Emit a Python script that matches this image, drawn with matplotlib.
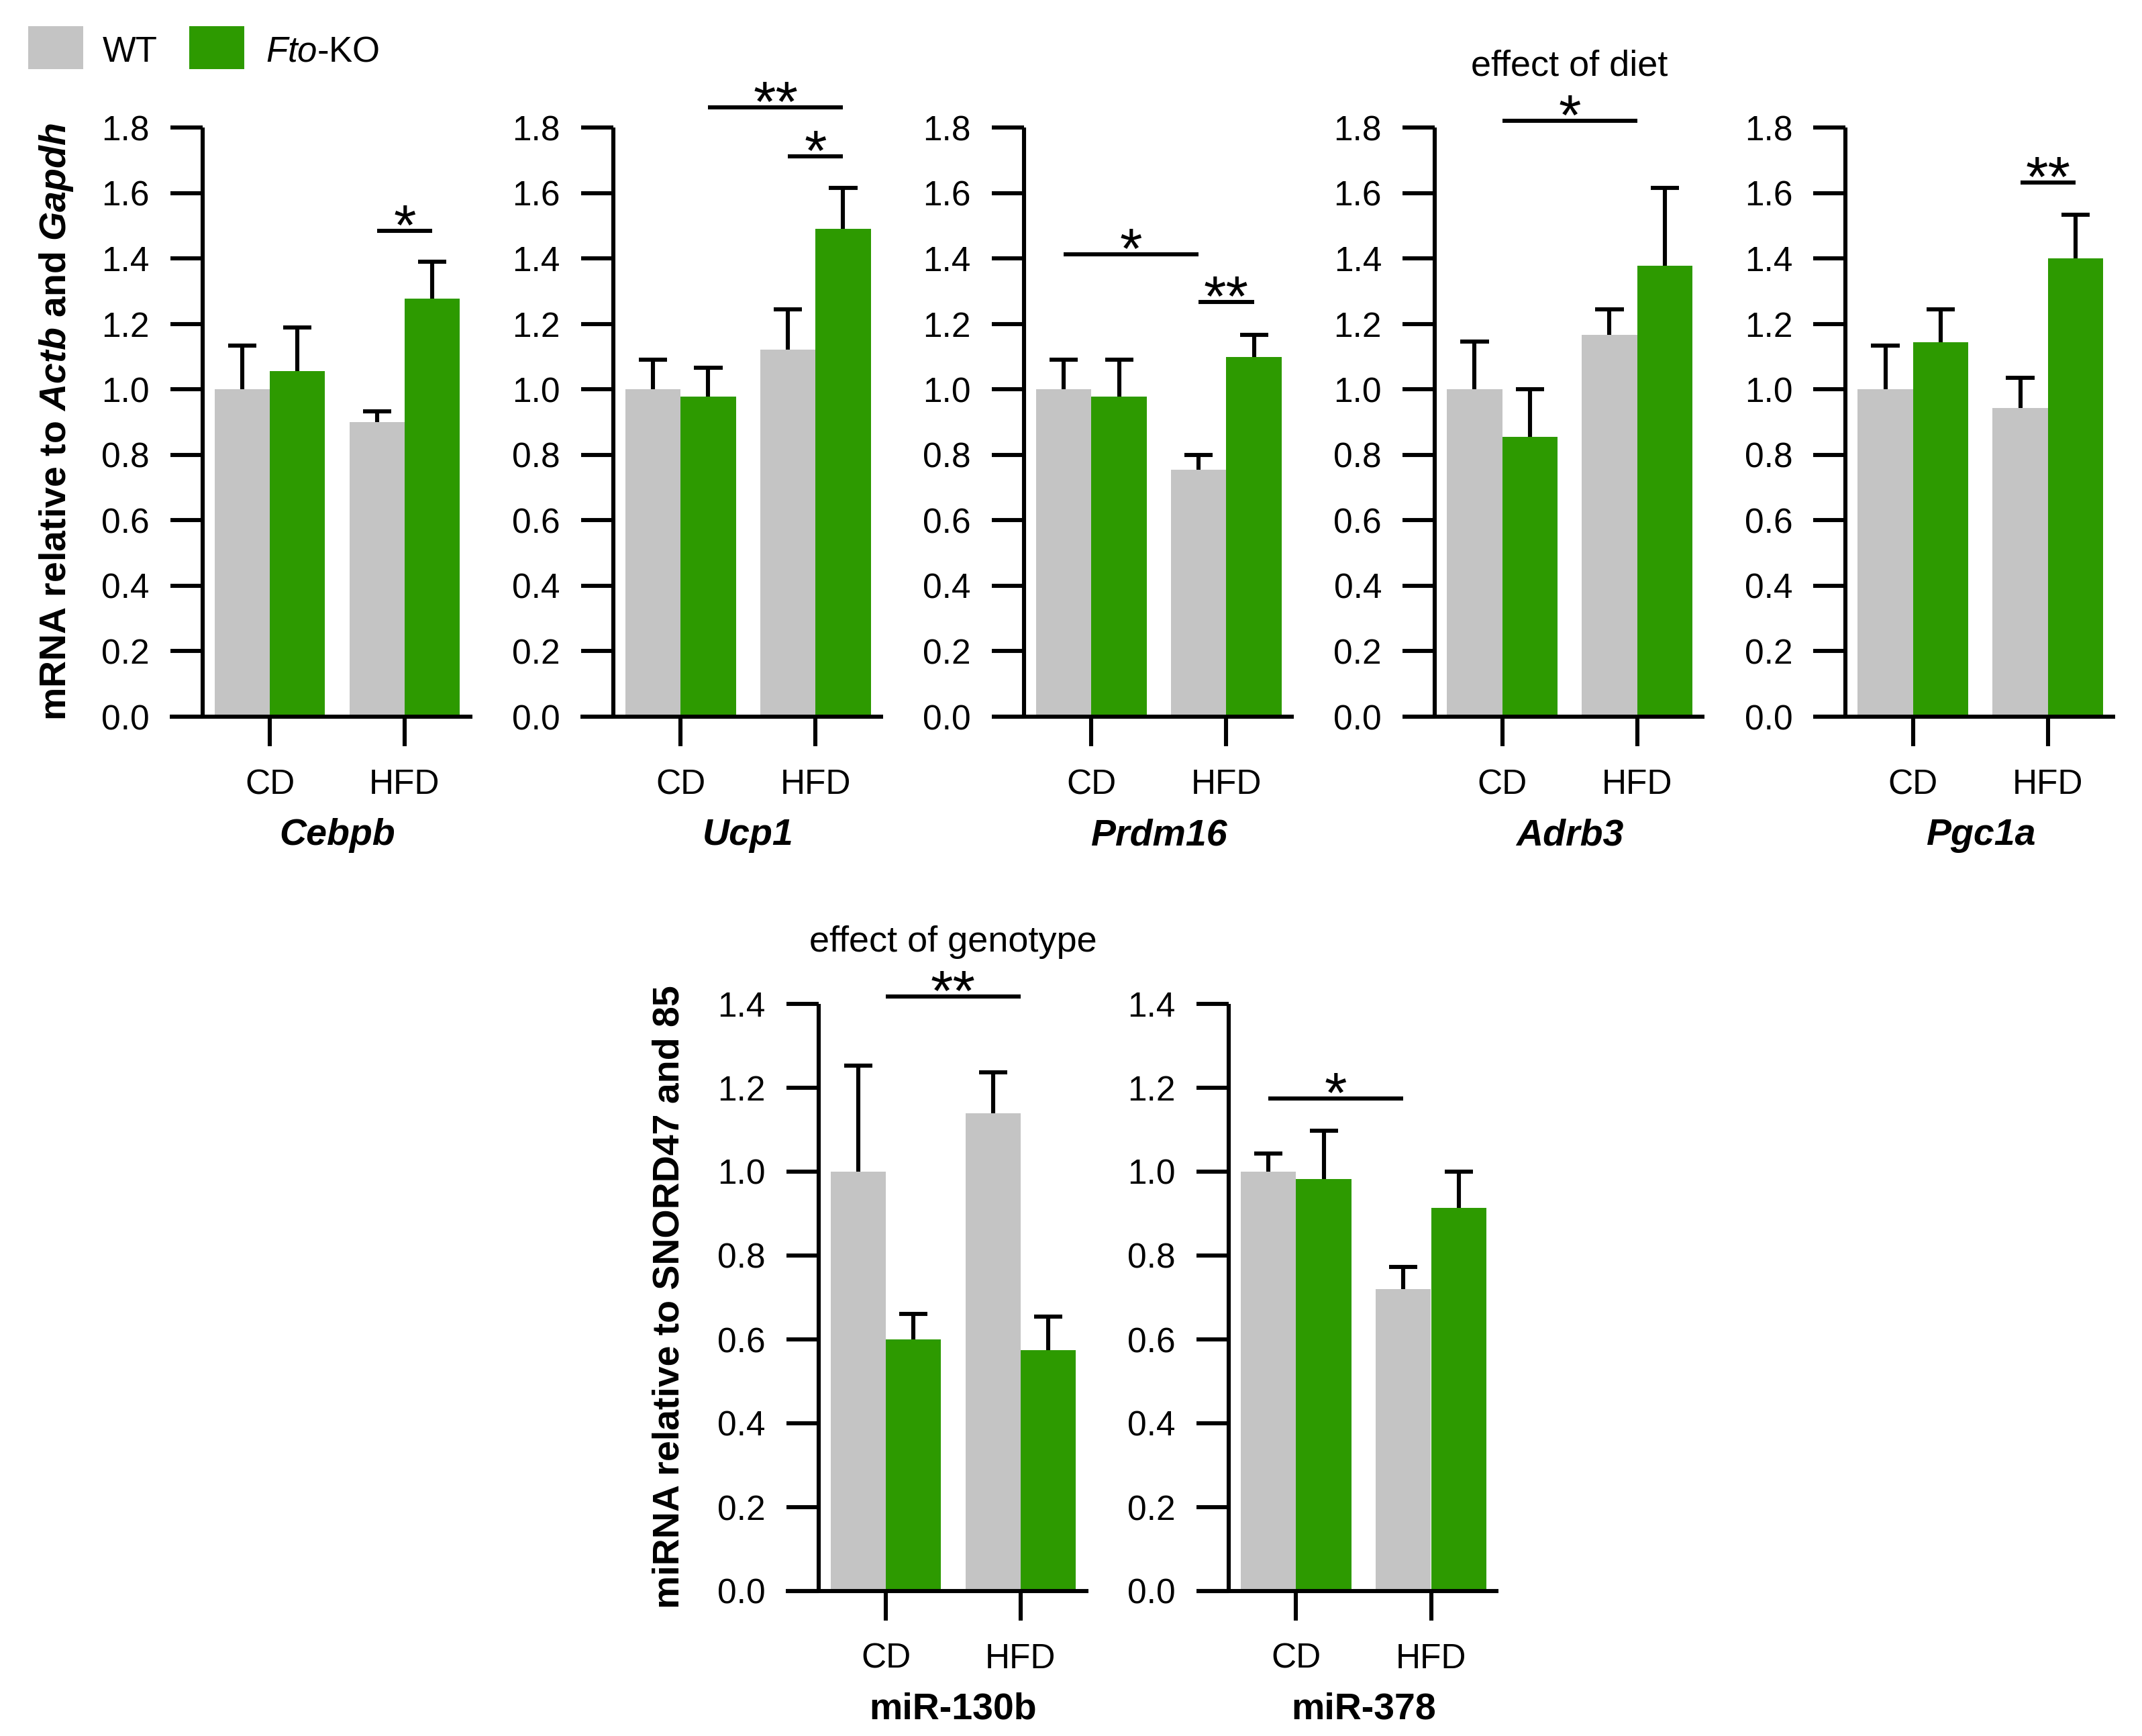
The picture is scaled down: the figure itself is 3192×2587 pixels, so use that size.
import matplotlib
matplotlib.use('Agg')
import matplotlib.pyplot as plt
import numpy as np
from matplotlib.patches import Rectangle

plt.rcParams['font.family'] = ['Liberation Sans', 'DejaVu Sans']
plt.rcParams['mathtext.fontset'] = 'custom'
plt.rcParams['mathtext.rm'] = 'Liberation Sans'
plt.rcParams['mathtext.it'] = 'Liberation Sans:italic'
plt.rcParams['mathtext.bf'] = 'Liberation Sans:bold'
plt.rcParams['mathtext.bfit'] = 'Liberation Sans:bold:italic'

# ---------------- data ----------------
diets = ['CD', 'HFD']
genotypes = ['WT', 'Fto-KO']

mrna_genes = ['Cebpb', 'Ucp1', 'Prdm16', 'Adrb3', 'Pgc1a']
mrna_wt_mean = [[1.00, 0.899], [1.00, 1.121], [1.00, 0.755], [1.00, 1.167], [1.00, 0.943]]
mrna_wt_sem = [[0.133, 0.033], [0.091, 0.124], [0.090, 0.045], [0.146, 0.077], [0.134, 0.092]]
mrna_ko_mean = [[1.056, 1.277], [0.978, 1.491], [0.978, 1.099], [0.855, 1.378], [1.144, 1.401]]
mrna_ko_sem = [[0.134, 0.113], [0.088, 0.125], [0.112, 0.067], [0.146, 0.237], [0.100, 0.132]]

mirna_names = ['miR-130b', 'miR-378']
mirna_wt_mean = [[1.00, 1.140], [1.00, 0.720]]
mirna_wt_sem = [[0.253, 0.097], [0.043, 0.053]]
mirna_ko_mean = [[0.600, 0.575], [0.983, 0.913]]
mirna_ko_sem = [[0.061, 0.080], [0.115, 0.087]]

# significance brackets: (x-from, x-to, height, label); x as (diet, genotype) or diet centre
mrna_sig = {
    0: [((1, 0), (1, 1), 1.484, '*')],
    1: [((1, 0), (1, 1), 1.712, '*'), ((0, 1), (1, 1), 1.861, '**')],
    2: [((0, 0), (1, 0), 1.413, '*'), ((1, 0), (1, 1), 1.267, '**')],
    3: [((0, None), (1, None), 1.820, '*')],
    4: [((1, 0), (1, 1), 1.631, '**')],
}
mrna_notes = {3: ('effect of diet', 1.959)}
mirna_sig = {
    0: [((0, None), (1, None), 1.418, '**')],
    1: [((0, 0), (1, 0), 1.175, '*')],
}
mirna_notes = {0: ('effect of genotype', 1.525)}

# ---------------- style ----------------
W, H = 3192, 2587
DPI = 200
fig = plt.figure(figsize=(W / DPI, H / DPI), dpi=DPI)

GRAY = '#C4C4C4'
GREEN = '#2D9A00'
LW = 2.2
BW = 0.41
OFF = 0.205
CAPW = 0.105          # half cap width in group units
UNIT = 201.0          # px per group unit
XL = (-0.74, 1.5)
TICKFS = 18.5
TITLEFS = 20
STARFS = 31
NOTEFS = 19.5


def px_to_pt(px):
    return px * 72.0 / DPI


def xpos(spec):
    d, g = spec
    if g is None:
        return d
    return d + (-OFF if g == 0 else OFF)


def make_panel(yaxis_px, top_px, bottom_px, ymax, wt_m, wt_s, ko_m, ko_s,
               name, italic, sigs, note):
    left_px = yaxis_px - (-0.5 - XL[0]) * UNIT
    width_px = (XL[1] - XL[0]) * UNIT
    ax = fig.add_axes([left_px / W, 1 - bottom_px / H, width_px / W,
                       (bottom_px - top_px) / H])
    x = np.arange(len(diets))
    ax.bar(x - OFF, wt_m, width=BW, color=GRAY, edgecolor='none', zorder=2)
    ax.bar(x + OFF, ko_m, width=BW, color=GREEN, edgecolor='none', zorder=2)
    for xs, m, s in ((x - OFF, wt_m, wt_s), (x + OFF, ko_m, ko_s)):
        m = np.asarray(m)
        tops = m + np.asarray(s)
        ax.vlines(xs, m, tops, colors='black', linewidth=LW, zorder=3, clip_on=False)
        ax.hlines(tops, xs - CAPW, xs + CAPW, colors='black', linewidth=LW,
                  zorder=3, clip_on=False)
    ax.set_xlim(*XL)
    ax.set_ylim(0, ymax)
    ticks = np.round(np.arange(0, ymax + 0.001, 0.2), 1)
    ax.set_yticks(ticks)
    ax.set_yticklabels([f'{v:.1f}' for v in ticks])
    ax.set_xticks(x)
    ax.set_xticklabels(diets)
    for sp in ('top', 'right'):
        ax.spines[sp].set_visible(False)
    ax.spines['left'].set_position(('data', -0.5))
    for sp in ('left', 'bottom'):
        ax.spines[sp].set_linewidth(LW)
        ax.spines[sp].set_capstyle('butt')
    ax.tick_params(axis='y', direction='out', length=px_to_pt(48), width=LW,
                   pad=px_to_pt(31), labelsize=TICKFS)
    ax.tick_params(axis='x', direction='out', length=px_to_pt(44), width=LW,
                   pad=px_to_pt(33), labelsize=TICKFS)
    ax.patch.set_visible(False)
    # panel name
    ax.annotate(name, xy=(0.5, 0), xycoords='data',
                xytext=(0, -px_to_pt(191)), textcoords='offset points',
                ha='center', va='baseline', fontsize=TITLEFS, fontweight='bold',
                fontstyle='italic' if italic else 'normal', annotation_clip=False)
    for a, b, h, lab in sigs:
        xa, xb = xpos(a), xpos(b)
        ax.plot([xa, xb], [h, h], color='black', lw=LW, solid_capstyle='butt',
                clip_on=False, zorder=4)
        ax.annotate(lab, xy=((xa + xb) / 2, h), xytext=(0, px_to_pt(29) - 0.58 * STARFS),
                    textcoords='offset points', ha='center', va='baseline',
                    fontsize=STARFS, annotation_clip=False)
    if note is not None:
        ax.text(0.5, note[1], note[0], ha='center', va='baseline', fontsize=NOTEFS,
                clip_on=False)
    return ax


# top row
for i, g in enumerate(mrna_genes):
    make_panel(301.5 + 612.2 * i, 190, 1068, 1.8,
               mrna_wt_mean[i], mrna_wt_sem[i], mrna_ko_mean[i], mrna_ko_sem[i],
               g, True, mrna_sig.get(i, []), mrna_notes.get(i))

# bottom row
for i, g in enumerate(mirna_names):
    make_panel(1219.5 + 611.5 * i, 1496, 2371, 1.4,
               mirna_wt_mean[i], mirna_wt_sem[i], mirna_ko_mean[i], mirna_ko_sem[i],
               g, False, mirna_sig.get(i, []), mirna_notes.get(i))

# y labels
fig.text(84 / W, 1 - 629 / H,
         r'$\mathbf{mRNA\ relative\ to\ }\mathbfit{Actb}\mathbf{\ and\ }\mathbfit{Gapdh}$',
         rotation=90, ha='center', va='center', fontsize=TITLEFS)
fig.text(997 / W, 1 - 1933 / H, 'miRNA relative to SNORD47 and 85',
         rotation=90, ha='center', va='center', fontsize=TITLEFS, fontweight='bold')

# legend
fig.patches.append(Rectangle((42 / W, 1 - 103 / H), 82 / W, 64 / H, transform=fig.transFigure,
                             facecolor=GRAY, edgecolor='none'))
fig.patches.append(Rectangle((282 / W, 1 - 103 / H), 82 / W, 64 / H, transform=fig.transFigure,
                             facecolor=GREEN, edgecolor='none'))
fig.text(153 / W, 1 - 92 / H, genotypes[0], ha='left', va='baseline', fontsize=19)
fig.text(396 / W, 1 - 92 / H, r'$\mathit{Fto}$-KO', ha='left', va='baseline', fontsize=19)

fig.savefig('out.png', dpi=DPI)
